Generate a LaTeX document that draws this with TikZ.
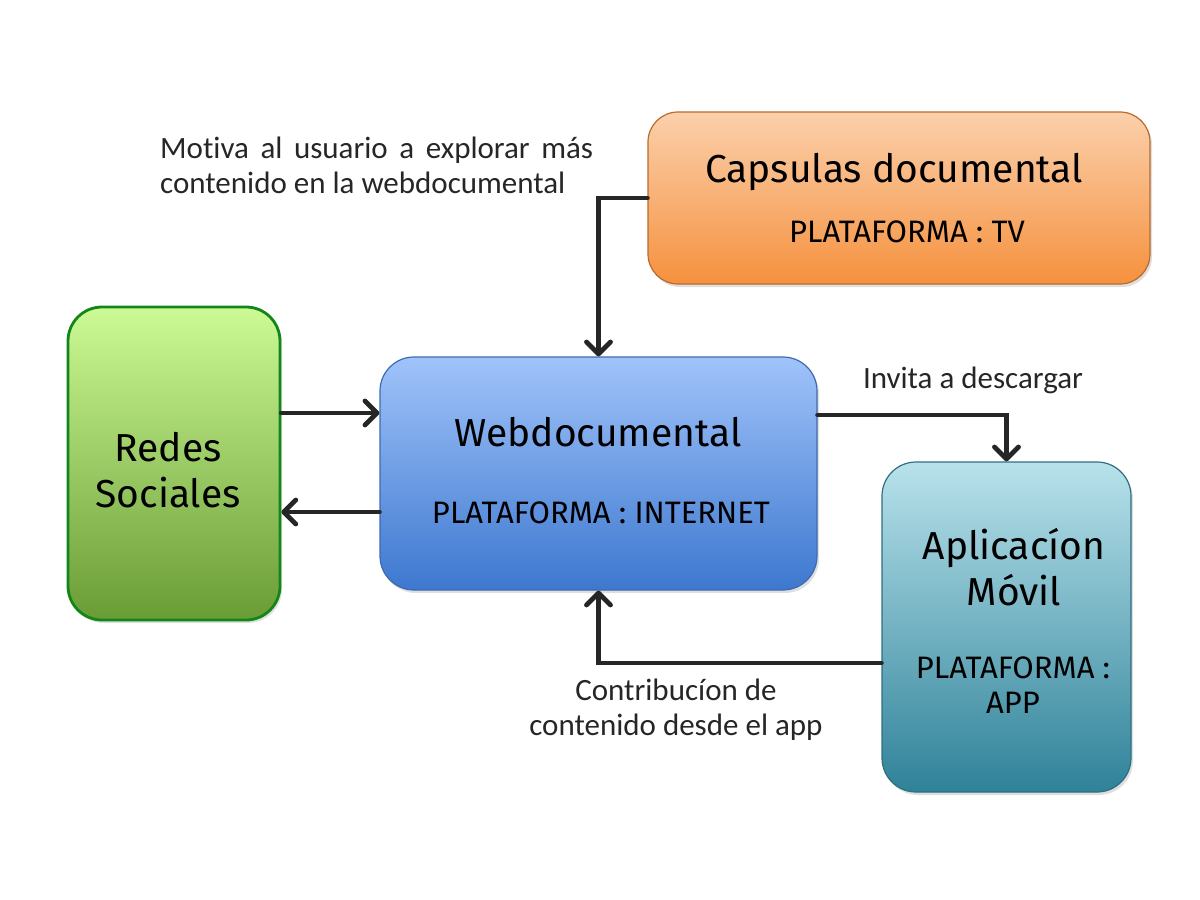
\documentclass[tikz,border=0pt]{standalone}
\usepackage{fontspec}
\setmainfont[Ligatures={NoCommon}]{Carlito}
\newfontfamily\boxfont{Fira Sans}
\usetikzlibrary{arrows.meta,shadows}
\definecolor{capstop}{HTML}{FBD0AC}
\definecolor{capsbot}{HTML}{F5913E}
\definecolor{capsline}{HTML}{B86B2C}
\definecolor{redtop}{HTML}{CCFA95}
\definecolor{redbot}{HTML}{6A9C36}
\definecolor{redline}{HTML}{13861A}
\definecolor{webtop}{HTML}{A0C3FA}
\definecolor{webbot}{HTML}{3D78CF}
\definecolor{webline}{HTML}{3D6AB0}
\definecolor{apptop}{HTML}{B8E2EB}
\definecolor{appbot}{HTML}{2F8299}
\definecolor{appline}{HTML}{2E6F80}
\definecolor{ink}{HTML}{262626}
\tikzset{
  box/.style={rectangle, rounded corners=34pt, inner sep=0pt,
    drop shadow={opacity=0.25, shadow xshift=2pt, shadow yshift=-3pt}},
  title/.style={font=\boxfont\fontsize{39}{46}\selectfont, align=center, inner sep=0pt},
  sub/.style={font=\boxfont\fontsize{31}{35}\selectfont, align=center, inner sep=0pt},
  note/.style={font=\fontsize{31}{35}\selectfont, text=ink, inner sep=0pt},
  conn/.style={draw=ink, line width=4.8pt, line cap=round, line join=miter,
    -{Straight Barb[length=12pt,width=24pt,line width=4.8pt,round]}}
}
\begin{document}
\begin{tikzpicture}[x=1pt,y=-1pt]
\useasboundingbox (0,0) rectangle (1200,900);
% boxes
\node[box, minimum width=502pt, minimum height=172pt, rounded corners=30pt,
  top color=capstop, bottom color=capsbot, draw=capsline, line width=1.2pt]
  (caps) at (899,198) {};
\node[box, minimum width=212pt, minimum height=313pt,
  top color=redtop, bottom color=redbot, draw=redline, line width=2.8pt]
  (redes) at (174,463.5) {};
\node[box, minimum width=437pt, minimum height=233pt,
  top color=webtop, bottom color=webbot, draw=webline, line width=1.2pt]
  (web) at (598.5,473.5) {};
\node[box, minimum width=249pt, minimum height=330pt,
  top color=apptop, bottom color=appbot, draw=appline, line width=1.2pt]
  (app) at (1006.5,627) {};
% box texts
\node[title] (capsT) at (894,172) {Capsulas documental};
\node[sub] (capsS) at (907,232) {PLATAFORMA : TV};
\node[title] (redesT) at (168,470) {Redes\\Sociales};
\node[title] (webT) at (598,432) {Webdocumental};
\node[sub] (webS) at (601,513) {PLATAFORMA : INTERNET};
\node[title] (appT) at (1014,567) {Aplicacíon\\Móvil};
\node[sub] (appS) at (1013,685) {PLATAFORMA :\\APP};
% annotations
\node[note, align=left, anchor=west] (n1) at (160,165)
  {\hbox to 433pt{Motiva\hfill al\hfill usuario\hfill a\hfill explorar\hfill más}\\contenido en la webdocumental};
\node[note] (n2) at (973,380) {Invita a descargar};
\node[note, align=center] (n3) at (676,710) {Contribucíon de\\contenido desde el app};
% connectors
\draw[conn] (caps.west) -| (web.north);
\draw[conn] (redes.east |- 0,413) -- (web.west |- 0,413);
\draw[conn] (web.west |- 0,512) -- (redes.east |- 0,512);
\draw[conn] (web.east |- 0,415) -| (app.north);
\draw[conn] (app.west |- 0,663) -| (web.south);
\end{tikzpicture}
\end{document}
